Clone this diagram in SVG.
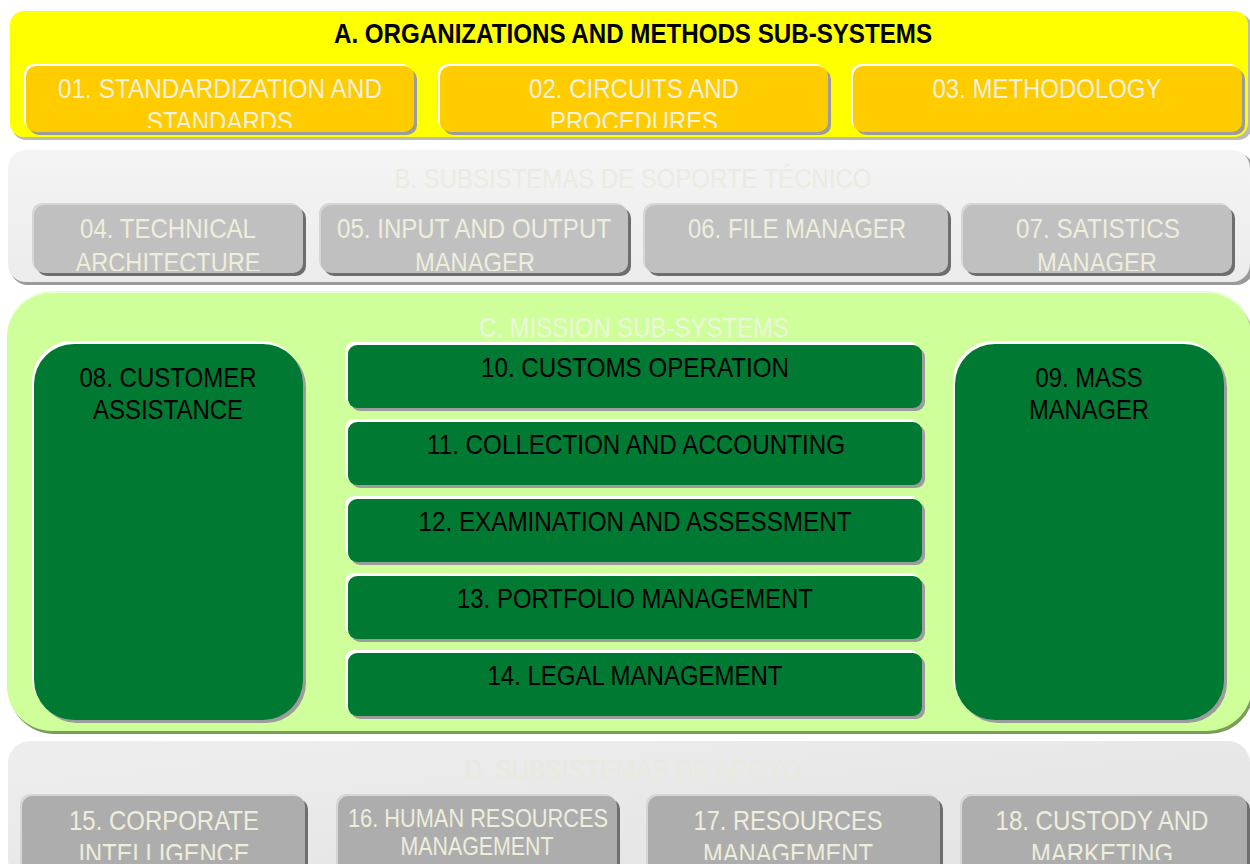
<svg xmlns="http://www.w3.org/2000/svg" width="1250" height="864" viewBox="0 0 1250 864">
  <style>
    text { font-family: "Liberation Sans Narrow", "Liberation Sans", Arial, sans-serif; text-anchor: middle; }
    .title-a { font-size: 28px; font-weight: bold; fill: #000000; }
    .title-faint { font-size: 28px; }
    .lbl { font-size: 28px; }
    .lbl-sm { font-size: 25px; }
    .on-orange { fill: #F4F0DE; }
    .on-gray { fill: #EEEEDC; }
    .on-green { fill: #000000; }
    .hl-white { fill: #FFFFFF; }
    .sh-gray { fill: #9C9C9C; }
    .sh-dark { fill: #6E6E6E; }
    .hl-gray { fill: #D6D6D6; }
    .box-orange { fill: #FFCC00; }
    .box-gray-b { fill: #C0C0C0; }
    .box-gray-d { fill: #ADADAD; }
    .box-green { fill: #007A33; }
  </style>
  <defs>
    <linearGradient id="bandB" x1="0" y1="0" x2="0" y2="1">
      <stop offset="0" stop-color="#F4F4F4"/>
      <stop offset="1" stop-color="#ECECEC"/>
    </linearGradient>
    <linearGradient id="bandD" x1="0" y1="0" x2="1" y2="1">
      <stop offset="0" stop-color="#EEEEEE"/>
      <stop offset="1" stop-color="#E2E2E2"/>
    </linearGradient>
    <clipPath id="c01"><rect x="26" y="66" width="388" height="62"/></clipPath>
    <clipPath id="c02"><rect x="440" y="66" width="388" height="62"/></clipPath>
    <clipPath id="c04"><rect x="34" y="205" width="269" height="66"/></clipPath>
    <clipPath id="c05"><rect x="321" y="205" width="307" height="66"/></clipPath>
    <clipPath id="c07"><rect x="963" y="205" width="269" height="66"/></clipPath>
    <clipPath id="c15"><rect x="22" y="796" width="283" height="64"/></clipPath>
    <clipPath id="c17"><rect x="648" y="796" width="292" height="64"/></clipPath>
    <clipPath id="c18"><rect x="962" y="796" width="285" height="64"/></clipPath>
  </defs>

  <rect width="1250" height="864" fill="#FFFFFF"/>

  <!-- Band A: organizations and methods -->
  <g id="band-a">
    <rect x="12" y="14" width="1240" height="126" rx="14" fill="#BDBDAE"/>
    <rect x="10" y="11" width="1238" height="126" rx="14" fill="#FFFF00"/>
    <text class="title-a" x="633" y="43" textLength="598" lengthAdjust="spacingAndGlyphs">A. ORGANIZATIONS AND METHODS SUB-SYSTEMS</text>
  </g>
  <g id="node-01">
    <rect class="hl-white" x="24" y="64" width="388" height="66" rx="10"/>
    <rect class="sh-gray" x="29" y="69" width="388" height="66" rx="10"/>
    <rect class="box-orange" x="26" y="66" width="388" height="66" rx="10"/>
    <g clip-path="url(#c01)">
      <text class="lbl on-orange" x="220" y="98" textLength="324" lengthAdjust="spacingAndGlyphs">01. STANDARDIZATION AND</text>
      <text class="lbl on-orange" x="220" y="131" textLength="146" lengthAdjust="spacingAndGlyphs">STANDARDS</text>
    </g>
  </g>
  <g id="node-02">
    <rect class="hl-white" x="438" y="64" width="388" height="66" rx="10"/>
    <rect class="sh-gray" x="443" y="69" width="388" height="66" rx="10"/>
    <rect class="box-orange" x="440" y="66" width="388" height="66" rx="10"/>
    <g clip-path="url(#c02)">
      <text class="lbl on-orange" x="634" y="98" textLength="210" lengthAdjust="spacingAndGlyphs">02. CIRCUITS AND</text>
      <text class="lbl on-orange" x="634" y="131" textLength="168" lengthAdjust="spacingAndGlyphs">PROCEDURES</text>
    </g>
  </g>
  <g id="node-03">
    <rect class="hl-white" x="851" y="64" width="389" height="66" rx="10"/>
    <rect class="sh-gray" x="856" y="69" width="389" height="66" rx="10"/>
    <rect class="box-orange" x="853" y="66" width="389" height="66" rx="10"/>
    <text class="lbl on-orange" x="1047" y="98" textLength="229" lengthAdjust="spacingAndGlyphs">03. METHODOLOGY</text>
  </g>

  <!-- Band B: technical support -->
  <g id="band-b">
    <rect x="10" y="153" width="1244" height="132" rx="18" fill="#9A9A9A"/>
    <rect x="8" y="150" width="1242" height="132" rx="18" fill="url(#bandB)"/>
    <text class="title-faint" x="633" y="188" fill="#EBEBE0" textLength="477" lengthAdjust="spacingAndGlyphs">B. SUBSISTEMAS DE SOPORTE TÉCNICO</text>
  </g>
  <g id="node-04">
    <rect class="hl-gray" x="32" y="203" width="269" height="68" rx="10"/>
    <rect class="sh-dark" x="37" y="208" width="269" height="68" rx="10"/>
    <rect class="box-gray-b" x="34" y="205" width="269" height="68" rx="10"/>
    <g clip-path="url(#c04)">
      <text class="lbl on-gray" x="168" y="238" textLength="176" lengthAdjust="spacingAndGlyphs">04. TECHNICAL</text>
      <text class="lbl on-gray" x="168" y="272" textLength="185" lengthAdjust="spacingAndGlyphs">ARCHITECTURE</text>
    </g>
  </g>
  <g id="node-05">
    <rect class="hl-gray" x="319" y="203" width="307" height="68" rx="10"/>
    <rect class="sh-dark" x="324" y="208" width="307" height="68" rx="10"/>
    <rect class="box-gray-b" x="321" y="205" width="307" height="68" rx="10"/>
    <g clip-path="url(#c05)">
      <text class="lbl on-gray" x="474" y="238" textLength="274" lengthAdjust="spacingAndGlyphs">05. INPUT AND OUTPUT</text>
      <text class="lbl on-gray" x="475" y="272" textLength="120" lengthAdjust="spacingAndGlyphs">MANAGER</text>
    </g>
  </g>
  <g id="node-06">
    <rect class="hl-gray" x="643" y="203" width="303" height="68" rx="10"/>
    <rect class="sh-dark" x="648" y="208" width="303" height="68" rx="10"/>
    <rect class="box-gray-b" x="645" y="205" width="303" height="68" rx="10"/>
    <text class="lbl on-gray" x="797" y="238" textLength="218" lengthAdjust="spacingAndGlyphs">06. FILE MANAGER</text>
  </g>
  <g id="node-07">
    <rect class="hl-gray" x="961" y="203" width="269" height="68" rx="10"/>
    <rect class="sh-dark" x="966" y="208" width="269" height="68" rx="10"/>
    <rect class="box-gray-b" x="963" y="205" width="269" height="68" rx="10"/>
    <g clip-path="url(#c07)">
      <text class="lbl on-gray" x="1098" y="238" textLength="164" lengthAdjust="spacingAndGlyphs">07. SATISTICS</text>
      <text class="lbl on-gray" x="1097" y="272" textLength="120" lengthAdjust="spacingAndGlyphs">MANAGER</text>
    </g>
  </g>

  <!-- Band C: mission -->
  <g id="band-c">
    <rect x="7" y="291" width="1245" height="438" rx="45" fill="#E8FFD4"/>
    <rect x="9" y="296" width="1245" height="438" rx="45" fill="#7A9E58"/>
    <rect x="7" y="293" width="1245" height="438" rx="45" fill="#CFFF9B"/>
    <text class="title-faint" x="634" y="337" fill="#ECF6DA" textLength="310" lengthAdjust="spacingAndGlyphs">C. MISSION SUB-SYSTEMS</text>
  </g>
  <g id="node-08">
    <rect class="hl-white" x="32" y="341" width="269" height="376" rx="40"/>
    <rect class="sh-gray" x="37" y="347" width="269" height="376" rx="40"/>
    <rect class="box-green" x="34" y="344" width="269" height="376" rx="40"/>
    <text class="lbl on-green" x="168" y="387" textLength="177" lengthAdjust="spacingAndGlyphs">08. CUSTOMER</text>
    <text class="lbl on-green" x="168" y="419" textLength="150" lengthAdjust="spacingAndGlyphs">ASSISTANCE</text>
  </g>
  <g id="node-09">
    <rect class="hl-white" x="953" y="341" width="269" height="376" rx="40"/>
    <rect class="sh-gray" x="958" y="347" width="269" height="376" rx="40"/>
    <rect class="box-green" x="955" y="344" width="269" height="376" rx="40"/>
    <text class="lbl on-green" x="1089" y="387" textLength="107" lengthAdjust="spacingAndGlyphs">09. MASS</text>
    <text class="lbl on-green" x="1089" y="419" textLength="120" lengthAdjust="spacingAndGlyphs">MANAGER</text>
  </g>
  <g id="node-10">
    <rect class="hl-white" x="345" y="342" width="574" height="63" rx="9"/>
    <rect class="sh-gray" x="351" y="348" width="574" height="63" rx="9"/>
    <rect class="box-green" x="348" y="345" width="574" height="63" rx="9"/>
    <text class="lbl on-green" x="635" y="377" textLength="308" lengthAdjust="spacingAndGlyphs">10. CUSTOMS OPERATION</text>
  </g>
  <g id="node-11">
    <rect class="hl-white" x="345" y="419" width="574" height="63" rx="9"/>
    <rect class="sh-gray" x="351" y="425" width="574" height="63" rx="9"/>
    <rect class="box-green" x="348" y="422" width="574" height="63" rx="9"/>
    <text class="lbl on-green" x="636" y="454" textLength="418" lengthAdjust="spacingAndGlyphs">11. COLLECTION AND ACCOUNTING</text>
  </g>
  <g id="node-12">
    <rect class="hl-white" x="345" y="496" width="574" height="63" rx="9"/>
    <rect class="sh-gray" x="351" y="502" width="574" height="63" rx="9"/>
    <rect class="box-green" x="348" y="499" width="574" height="63" rx="9"/>
    <text class="lbl on-green" x="635" y="531" textLength="433" lengthAdjust="spacingAndGlyphs">12. EXAMINATION AND ASSESSMENT</text>
  </g>
  <g id="node-13">
    <rect class="hl-white" x="345" y="573" width="574" height="63" rx="9"/>
    <rect class="sh-gray" x="351" y="579" width="574" height="63" rx="9"/>
    <rect class="box-green" x="348" y="576" width="574" height="63" rx="9"/>
    <text class="lbl on-green" x="635" y="608" textLength="356" lengthAdjust="spacingAndGlyphs">13. PORTFOLIO MANAGEMENT</text>
  </g>
  <g id="node-14">
    <rect class="hl-white" x="345" y="650" width="574" height="63" rx="9"/>
    <rect class="sh-gray" x="351" y="656" width="574" height="63" rx="9"/>
    <rect class="box-green" x="348" y="653" width="574" height="63" rx="9"/>
    <text class="lbl on-green" x="635" y="685" textLength="295" lengthAdjust="spacingAndGlyphs">14. LEGAL MANAGEMENT</text>
  </g>

  <!-- Band D: support -->
  <g id="band-d">
    <rect x="8" y="741" width="1242" height="140" rx="22" fill="url(#bandD)"/>
    <text class="title-faint" x="633" y="779" fill="#E9E9DE" textLength="337" lengthAdjust="spacingAndGlyphs">D. SUBSISTEMAS DE APOYO</text>
  </g>
  <g id="node-15">
    <rect class="hl-gray" x="20" y="794" width="283" height="80" rx="10"/>
    <rect class="sh-dark" x="25" y="799" width="283" height="80" rx="10"/>
    <rect class="box-gray-d" x="22" y="796" width="283" height="80" rx="10"/>
    <g clip-path="url(#c15)">
      <text class="lbl on-gray" x="164" y="830" textLength="190" lengthAdjust="spacingAndGlyphs">15. CORPORATE</text>
      <text class="lbl on-gray" x="164" y="863" textLength="171" lengthAdjust="spacingAndGlyphs">INTELLIGENCE</text>
    </g>
  </g>
  <g id="node-16">
    <rect class="hl-gray" x="336" y="794" width="279" height="80" rx="10"/>
    <rect class="sh-dark" x="341" y="799" width="279" height="80" rx="10"/>
    <rect class="box-gray-d" x="338" y="796" width="279" height="80" rx="10"/>
    <text class="lbl-sm on-gray" x="478" y="827" textLength="260" lengthAdjust="spacingAndGlyphs">16. HUMAN RESOURCES</text>
    <text class="lbl-sm on-gray" x="477" y="855" textLength="153" lengthAdjust="spacingAndGlyphs">MANAGEMENT</text>
  </g>
  <g id="node-17">
    <rect class="hl-gray" x="646" y="794" width="292" height="80" rx="10"/>
    <rect class="sh-dark" x="651" y="799" width="292" height="80" rx="10"/>
    <rect class="box-gray-d" x="648" y="796" width="292" height="80" rx="10"/>
    <g clip-path="url(#c17)">
      <text class="lbl on-gray" x="788" y="830" textLength="189" lengthAdjust="spacingAndGlyphs">17. RESOURCES</text>
      <text class="lbl on-gray" x="788" y="863" textLength="170" lengthAdjust="spacingAndGlyphs">MANAGEMENT</text>
    </g>
  </g>
  <g id="node-18">
    <rect class="hl-gray" x="960" y="794" width="285" height="80" rx="10"/>
    <rect class="sh-dark" x="965" y="799" width="285" height="80" rx="10"/>
    <rect class="box-gray-d" x="962" y="796" width="285" height="80" rx="10"/>
    <g clip-path="url(#c18)">
      <text class="lbl on-gray" x="1102" y="830" textLength="213" lengthAdjust="spacingAndGlyphs">18. CUSTODY AND</text>
      <text class="lbl on-gray" x="1102" y="863" textLength="142" lengthAdjust="spacingAndGlyphs">MARKETING</text>
    </g>
  </g>

  <!-- no connectors in this layout -->
  <g id="connectors"/>
</svg>
